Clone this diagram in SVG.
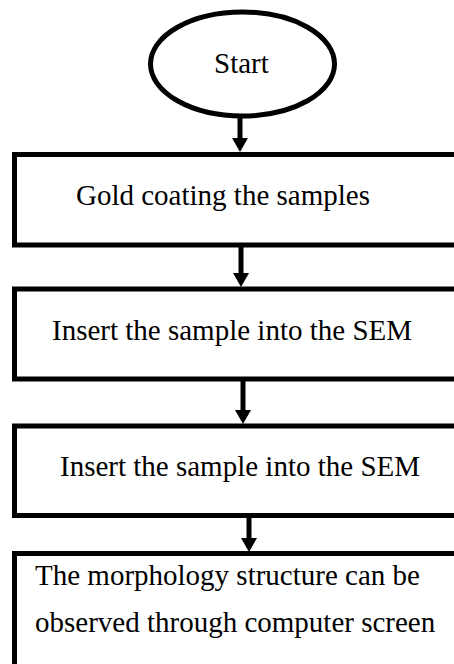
<svg xmlns="http://www.w3.org/2000/svg" width="454" height="664" viewBox="0 0 454 664">
  <style>
    .shape { fill: #ffffff; stroke: #000000; stroke-width: 5; }
    .label { font-family: "Liberation Serif", "Times New Roman", serif; font-size: 29px; fill: #000000; }
    .flow { stroke: #000000; stroke-width: 5; fill: none; }
  </style>
  <defs>
    <!-- solid triangular head; base sits on the end of the shaft -->
    <marker id="head" markerUnits="userSpaceOnUse" markerWidth="14" markerHeight="16" viewBox="0 0 14 16" refX="0" refY="8" orient="auto">
      <path d="M0,0 L14,8 L0,16 Z" fill="#000000"/>
    </marker>
  </defs>

  <rect width="454" height="664" fill="#ffffff"/>

  <g id="node-start">
    <ellipse class="shape" cx="242.5" cy="64" rx="92" ry="52"/>
    <text class="label" x="214" y="73">Start</text>
  </g>

  <g id="node-coating">
    <rect class="shape" x="14.5" y="154.5" width="470" height="90.5"/>
    <text class="label" x="76" y="205">Gold coating the samples</text>
  </g>

  <g id="node-insert-1">
    <rect class="shape" x="14.5" y="289" width="470" height="90"/>
    <text class="label" x="52" y="340">Insert the sample into the SEM</text>
  </g>

  <g id="node-insert-2">
    <rect class="shape" x="14.5" y="426" width="470" height="89.5"/>
    <text class="label" x="60" y="476">Insert the sample into the SEM</text>
  </g>

  <g id="node-observe">
    <rect class="shape" x="14.5" y="553.5" width="470" height="150"/>
    <text class="label" x="35" y="585">The morphology structure can be</text>
    <text class="label" x="35" y="632">observed through computer screen</text>
  </g>

  <g id="connectors">
    <line class="flow" x1="240" y1="114" x2="240" y2="138" marker-end="url(#head)"/>
    <line class="flow" x1="241" y1="247" x2="241" y2="273" marker-end="url(#head)"/>
    <line class="flow" x1="243" y1="381" x2="243" y2="410" marker-end="url(#head)"/>
    <line class="flow" x1="249" y1="518" x2="249" y2="538" marker-end="url(#head)"/>
  </g>
</svg>
